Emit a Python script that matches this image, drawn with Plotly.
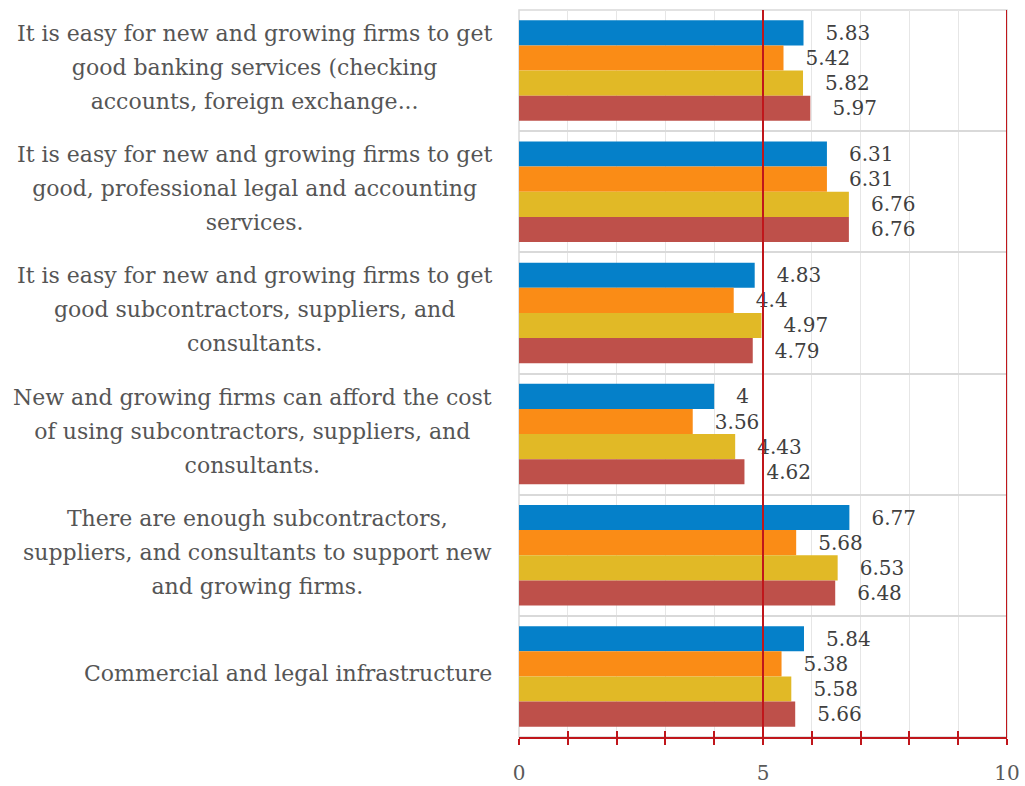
import plotly.graph_objects as go

# Survey items (top to bottom), one list entry per printed line
category_lines = [
    ["It is easy for new and growing firms to get", "good banking services (checking", "accounts, foreign exchange..."],
    ["It is easy for new and growing firms to get", "good, professional legal and accounting", "services."],
    ["It is easy for new and growing firms to get", "good subcontractors, suppliers, and", "consultants."],
    ["New and growing firms can afford the cost", "of using subcontractors, suppliers, and", "consultants."],
    ["There are enough subcontractors,", "suppliers, and consultants to support new", "and growing firms."],
    ["Commercial and legal infrastructure"],
]
categories = [" ".join(lines) for lines in category_lines]

series_names = ["Series A", "Series B", "Series C", "Series D"]
series_a = [5.83, 6.31, 4.83, 4.0, 6.77, 5.84]
series_b = [5.42, 6.31, 4.4, 3.56, 5.68, 5.38]
series_c = [5.82, 6.76, 4.97, 4.43, 6.53, 5.58]
series_d = [5.97, 6.76, 4.79, 4.62, 6.48, 5.66]
series_values = [series_a, series_b, series_c, series_d]
colors = ["#0580C9", "#FA8C16", "#E1B926", "#BE504A"]

x_ticks = list(range(0, 11))
x_tick_text = [str(t) if t in (0, 5, 10) else "" for t in x_ticks]

font_family = "DejaVu Serif, Liberation Serif, serif"
axis_red = "#C0161B"

fig = go.Figure()
for name, vals, col in zip(series_names, series_values, colors):
    fig.add_trace(go.Bar(
        y=categories,
        x=vals,
        name=name,
        orientation="h",
        marker=dict(color=col, line=dict(width=0)),
        text=["   " + f"{v:g}" for v in vals],
        textposition="outside",
        constraintext="none",
        cliponaxis=False,
        textfont=dict(family=font_family, size=20, color="#404040"),
    ))

# Category labels: centred multi-line blocks with generous line spacing
# (outer font size sets the spacing, inner span sets the glyph size)
for cat, lines in zip(categories, category_lines):
    text = "<br>".join(f'<span style="font-size:22px">{ln}</span>' for ln in lines)
    fig.add_annotation(
        x=0, xref="paper", xanchor="right", xshift=-25,
        y=cat, yref="y", yanchor="middle", yshift=3,
        text=text, align="center", showarrow=False,
        font=dict(family=font_family, size=26, color="#555555"),
    )

# Reference line at the scale midpoint and red right edge
fig.add_vline(x=5, line=dict(color=axis_red, width=2), layer="above")
fig.add_vline(x=10, line=dict(color=axis_red, width=2), layer="above")
# Light frame around the plotting area
fig.add_shape(type="rect", xref="paper", yref="paper", x0=0, x1=1, y0=0, y1=1,
              line=dict(color="#D9D9D9", width=1.5), layer="below")

fig.update_layout(
    width=1025,
    height=786,
    margin=dict(l=519, r=18, t=10, b=49, autoexpand=False),
    paper_bgcolor="white",
    plot_bgcolor="white",
    barmode="group",
    bargap=0.17,
    bargroupgap=0,
    showlegend=False,
    xaxis=dict(
        range=[0, 10],
        tickvals=x_ticks,
        ticktext=x_tick_text,
        showgrid=True,
        gridcolor="#E6E6E6",
        gridwidth=1,
        zeroline=False,
        showline=True,
        linecolor=axis_red,
        linewidth=2,
        ticks="outside",
        ticklen=6,
        tickwidth=2,
        tickcolor=axis_red,
        ticklabelstandoff=11,
        automargin=False,
        tickfont=dict(family=font_family, size=20, color="#595959"),
    ),
    xaxis2=dict(
        range=[0, 10],
        overlaying="x",
        side="bottom",
        tickvals=x_ticks,
        showticklabels=False,
        showgrid=False,
        zeroline=False,
        ticks="inside",
        ticklen=6,
        tickwidth=2,
        tickcolor=axis_red,
        automargin=False,
        matches="x",
    ),
    yaxis=dict(
        autorange="reversed",
        tickson="boundaries",
        showgrid=True,
        gridcolor="#D9D9D9",
        gridwidth=1.5,
        ticks="",
        showticklabels=False,
        automargin=False,
    ),
)

# Invisible trace to anchor the inner tick marks on xaxis2
fig.add_trace(go.Scatter(x=[0, 10], y=[categories[0], categories[0]], xaxis="x2",
                         mode="markers", marker=dict(opacity=0), hoverinfo="skip",
                         showlegend=False))

fig.write_html("out.html")
